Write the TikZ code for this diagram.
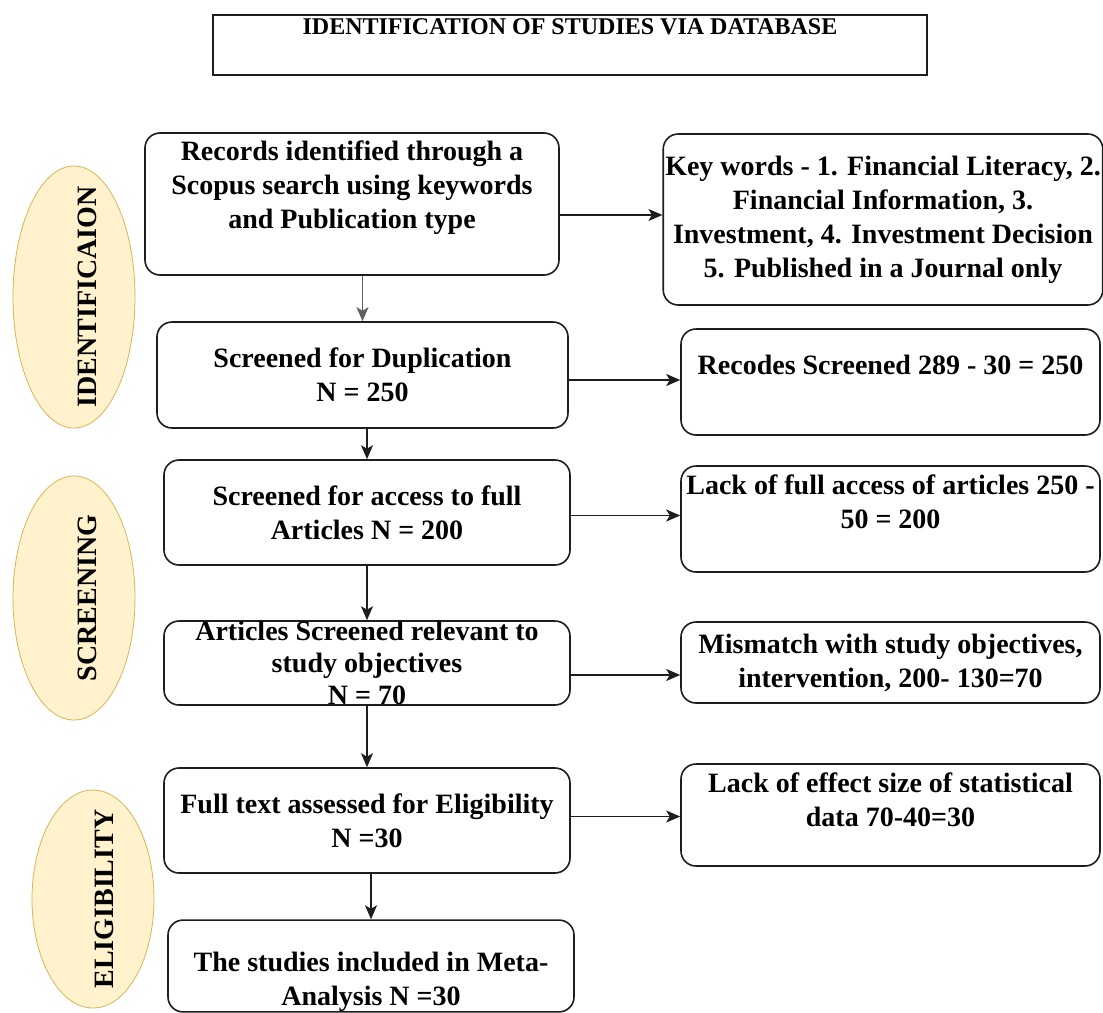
\documentclass[tikz,border=0pt]{standalone}
\usepackage{fontspec}
\setmainfont{Liberation Serif}
\usetikzlibrary{arrows.meta,shapes.geometric,calc}
\definecolor{phasefill}{HTML}{FFF2CC}
\definecolor{phaseline}{HTML}{D6B656}
\definecolor{ink}{HTML}{1E1E1E}
\begin{document}
\begin{tikzpicture}[x=1pt,y=-1pt,
  box/.style={draw=ink, line width=1.6pt, rounded corners=15pt, fill=white,
    align=center, inner xsep=2pt, inner ysep=0pt,
    font=\bfseries\fontsize{28}{34}\selectfont},
  titlebox/.style={draw=ink, line width=2.2pt, fill=white, align=center,
    inner sep=0pt, font=\bfseries\fontsize{24}{29}\selectfont},
  phase/.style={ellipse, draw=phaseline, line width=0.8pt, fill=phasefill, inner sep=0pt},
  phasetext/.style={rotate=90, font=\bfseries\fontsize{28}{34}\selectfont, inner sep=0pt},
  arr/.style={draw=ink, line width=1.6pt, -{Stealth[length=14pt,width=12pt,inset=3.5pt]}}
]
\useasboundingbox[fill=white] (0,0) rectangle (1103,1012);

% title
\node[titlebox, minimum width=714pt, minimum height=60pt] (title) at (570,45)
  {IDENTIFICATION OF STUDIES VIA DATABASE\\\strut};

% phase ellipses
\node[phase, minimum width=122pt, minimum height=262pt] (e1) at (74,297) {};
\node[phasetext] (t1) at ([xshift=13pt]e1.center) {IDENTIFICAION};
\node[phase, minimum width=122pt, minimum height=244pt] (e2) at (74,598) {};
\node[phasetext] (t2) at ([xshift=13pt]e2.center) {SCREENING};
\node[phase, minimum width=122pt, minimum height=218pt] (e3) at (93,899) {};
\node[phasetext] (t3) at ([xshift=11pt]e3.center) {ELIGIBILITY};

% left column
\node[box, minimum width=414pt, minimum height=142pt] (b1) at (352,204)
  {Records identified through a\\Scopus search using keywords\\and Publication type\\[-6pt]\strut};
\node[box, minimum width=411pt, minimum height=106pt] (b2) at (362.5,375)
  {Screened for Duplication\\N = 250};
\node[box, minimum width=406pt, minimum height=105pt] (b3) at (367,512.5)
  {Screened for access to full\\Articles N = 200};
\node[box, minimum width=406pt, minimum height=84pt, font=\bfseries\fontsize{28}{32}\selectfont] (b4) at (367,663)
  {Articles Screened relevant to\\study objectives\\N = 70};
\node[box, minimum width=406pt, minimum height=88pt] (b6) at (371,966)
  {\strut\\[-6pt]The studies included in Meta-\\Analysis N =30};
\node[box, minimum width=406pt, minimum height=105pt] (b5) at (367,820.5)
  {Full text assessed for Eligibility\\N =30};

% right column
\node[box, minimum width=434pt, minimum height=171pt] (k) at (883,219.5)
  {Key words - 1. Financial Literacy, 2.\\Financial Information, 3.\\Investment, 4. Investment Decision\\5. Published in a Journal only};
\node[box, minimum width=419pt, minimum height=106pt] (r) at (890.5,382)
  {Recodes Screened 289 - 30 = 250\\[-10pt]\strut};
\node[box, minimum width=419pt, minimum height=106pt] (l) at (890.5,519)
  {Lack of full access of articles 250 -\\50 = 200\\[-10pt]\strut};
\node[box, minimum width=419pt, minimum height=81pt] (m) at (890.5,662.5)
  {Mismatch with study objectives,\\intervention, 200- 130=70};
\node[box, minimum width=419pt, minimum height=102pt] (e) at (890.5,815)
  {Lack of effect size of statistical\\data 70-40=30\\[-14pt]\strut};

% vertical connectors
\draw[arr, draw=ink!70] (b1.south -| b2.north) -- (b2.north);
\draw[arr] (b2.south -| b3.north) -- (b3.north);
\draw[arr] (b3.south) -- (b4.north);
\draw[arr] (b4.south) -- (b5.north);
\draw[arr] (b5.south -| b6.north) -- (b6.north);

% horizontal connectors
\draw[arr] ([yshift=-11pt]b1.east) -- ([yshift=-11pt]b1.east -| k.west);
\draw[arr] ([yshift=-5pt]b2.east) -- ([yshift=-5pt]b2.east -| r.west);
\draw[arr] ([yshift=-3pt]b3.east) -- ([yshift=-3pt]b3.east -| l.west);
\draw[arr] ([yshift=-12pt]b4.east) -- ([yshift=-12pt]b4.east -| m.west);
\draw[arr] ([yshift=4pt]b5.east) -- ([yshift=4pt]b5.east -| e.west);
\end{tikzpicture}
\end{document}
